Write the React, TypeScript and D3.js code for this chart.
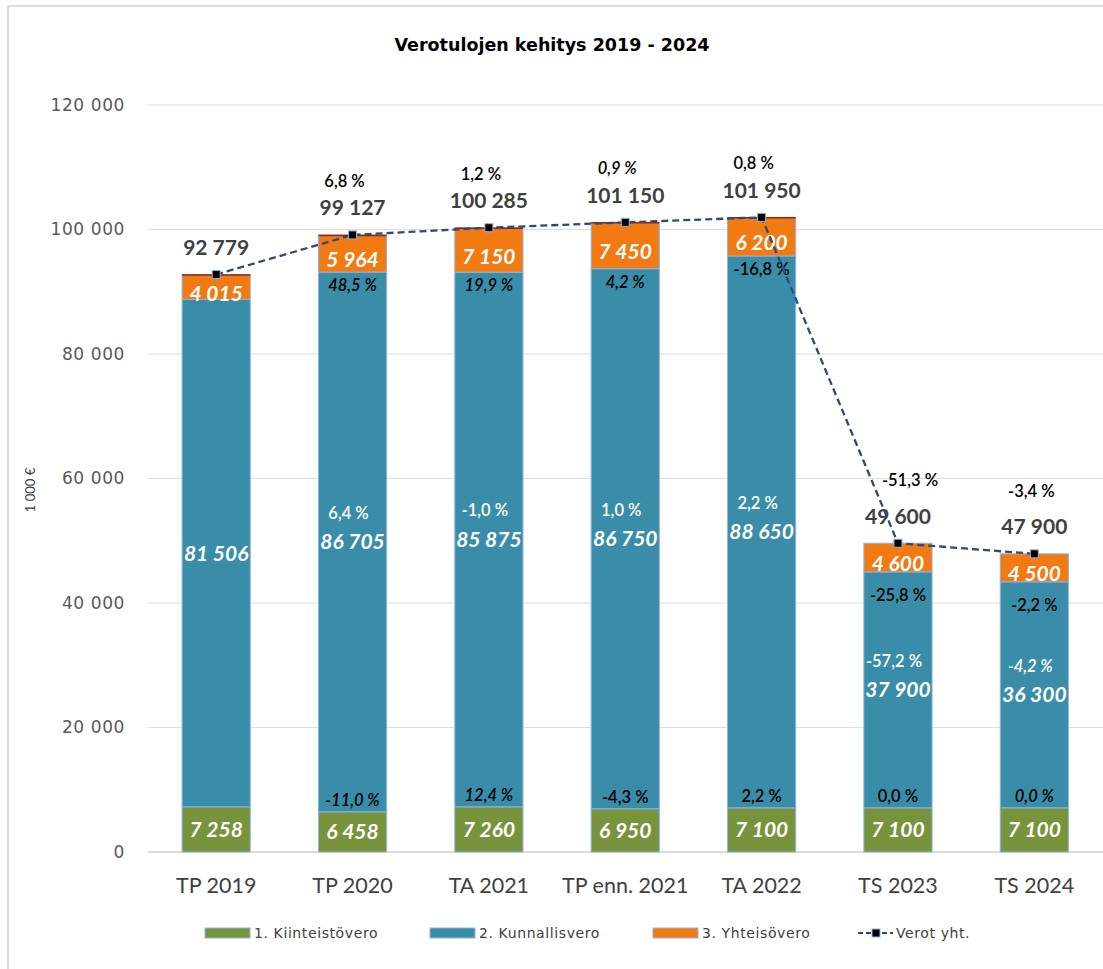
import React from "react";
import * as d3 from "d3";

const categories = ["TP 2019", "TP 2020", "TA 2021", "TP enn. 2021", "TA 2022", "TS 2023", "TS 2024"];
const kiinteistovero = [7258, 6458, 7260, 6950, 7100, 7100, 7100];
const kunnallisvero = [81506, 86705, 85875, 86750, 88650, 37900, 36300];
const yhteisovero = [4015, 5964, 7150, 7450, 6200, 4600, 4500];
const verotYht = [92779, 99127, 100285, 101150, 101950, 49600, 47900];

const totalGrowth = ["", "6,8 %", "1,2 %", "0,9 %", "0,8 %", "-51,3 %", "-3,4 %"];
const totalGrowthItalic = [false, false, false, true, false, false, false];
const yhteisGrowth = ["", "48,5 %", "19,9 %", "4,2 %", "-16,8 %", "-25,8 %", "-2,2 %"];
const yhteisGrowthItalic = [false, true, true, true, false, false, false];
const kunnGrowth = ["", "6,4 %", "-1,0 %", "1,0 %", "2,2 %", "-57,2 %", "-4,2 %"];
const kunnGrowthItalic = [false, false, false, false, false, false, true];
const kiintGrowth = ["", "-11,0 %", "12,4 %", "-4,3 %", "2,2 %", "0,0 %", "0,0 %"];
const kiintGrowthItalic = [false, true, true, false, false, false, true];
const hasTopEdge = [true, true, true, true, true, false, false];

const yTicks = [0, 20000, 40000, 60000, 80000, 100000, 120000];
const legendLabels = ["1. Kiinteistövero", "2. Kunnallisvero", "3. Yhteisövero", "Verot yht."];

const GREEN = "#77933C";
const TEAL = "#3A8DA8";
const ORANGE = "#F27A12";
const OUTLINE = "#8EB4E3";
const LINE = "#2E4A75";
const FONT = "Lato, 'Open Sans', sans-serif";

const fmt = (v: number) => d3.format(",")(v).replace(/,/g, " ");

export default function App() {
  const W = 1103, H = 969;
  const x = d3.scaleBand<string>().domain(categories).range([148, 1102.5]).paddingInner(0.5).paddingOuter(0.25);
  const y = d3.scaleLinear().domain([0, 120000]).range([852, 105]);
  const bw = x.bandwidth();
  const cx = (c: string) => (x(c) as number) + bw / 2;

  const lineGen = d3.line<number>().x((_, i) => cx(categories[i])).y((d) => y(d));

  const legendItems = [
    { x: 205, color: GREEN, label: legendLabels[0], kind: "box" },
    { x: 430, color: TEAL, label: legendLabels[1], kind: "box" },
    { x: 653, color: ORANGE, label: legendLabels[2], kind: "box" },
    { x: 858, color: LINE, label: legendLabels[3], kind: "line" },
  ];

  return (
    <svg width={W} height={H} style={{ position: "absolute", left: 0, top: 0, background: "#fff" }} fontFamily={FONT}>
      <rect x={8} y={6} width={W + 10} height={H + 10} fill="#fff" stroke="#DCDCDC" strokeWidth={2} />
      <text x={552} y={45} dy="0.36em" textAnchor="middle" fontSize={17.5} fontWeight={700} fill="#000" fontFamily="'DejaVu Sans', sans-serif">
        Verotulojen kehitys 2019 - 2024
      </text>

      {yTicks.map((t) => (
        <g key={t}>
          <line x1={148} x2={1103} y1={y(t)} y2={y(t)} stroke={t === 0 ? "#D0D0D0" : "#DEDEDE"} strokeWidth={t === 0 ? 1.5 : 1} />
          <text x={125} y={y(t)} dy="0.35em" textAnchor="end" fontSize={17} fill="#595959" fontFamily="'DejaVu Sans', sans-serif" letterSpacing={0.6}>
            {fmt(t)}
          </text>
        </g>
      ))}
      <text transform={`translate(35,${490}) rotate(-90)`} textAnchor="middle" fontSize={13} fill="#404040">
        1 000 €
      </text>

      {categories.map((c, i) => {
        const x0 = x(c) as number;
        const g0 = y(0), g1 = y(kiinteistovero[i]);
        const k1 = y(kiinteistovero[i] + kunnallisvero[i]);
        const o1 = y(kiinteistovero[i] + kunnallisvero[i] + yhteisovero[i]);
        const mid = cx(c);
        const pctX = i < 5 ? mid - 8 : i === 5 ? mid + 12 : mid - 3;
        return (
          <g key={c}>
            <rect x={x0} y={g1} width={bw} height={g0 - g1} fill={GREEN} stroke={OUTLINE} strokeWidth={1} />
            <rect x={x0} y={k1} width={bw} height={g1 - k1} fill={TEAL} stroke={OUTLINE} strokeWidth={1} />
            <rect x={x0} y={o1} width={bw} height={k1 - o1} fill={ORANGE} stroke={OUTLINE} strokeWidth={1} />
            {hasTopEdge[i] && <line x1={x0} x2={x0 + bw} y1={o1 + 0.5} y2={o1 + 0.5} stroke="#8B2A1A" strokeWidth={1.5} />}

            <text x={mid} y={(g0 + g1) / 2} dy="0.36em" textAnchor="middle" fontSize={21} fontWeight={700} fontStyle="italic" fill="#fff">
              {fmt(kiinteistovero[i])}
            </text>
            <text x={mid} y={(g1 + k1) / 2} dy="0.36em" textAnchor="middle" fontSize={21} fontWeight={700} fontStyle="italic" fill="#fff">
              {fmt(kunnallisvero[i])}
            </text>
            <text x={mid} y={(k1 + o1) / 2 + 6} dy="0.36em" textAnchor="middle" fontSize={21} fontWeight={700} fontStyle="italic" fill="#fff">
              {fmt(yhteisovero[i])}
            </text>

            <text x={mid} y={o1 - 27} dy="0.36em" textAnchor="middle" fontSize={21} fontWeight={700} fill="#404040">
              {fmt(verotYht[i])}
            </text>
            {totalGrowth[i] && (
              <text x={pctX} y={o1 - 27 - (i >= 5 ? 36 : 27)} dy="0.36em" textAnchor="middle" fontSize={16.5} fontWeight={600} fontStyle={totalGrowthItalic[i] ? "italic" : "normal"} fill="#000">
                {totalGrowth[i]}
              </text>
            )}
            {yhteisGrowth[i] && (
              <text x={mid} y={k1 + (i >= 5 ? 23 : 13)} dy="0.36em" textAnchor="middle" fontSize={16.5} fontWeight={600} fontStyle={yhteisGrowthItalic[i] ? "italic" : "normal"} fill="#000">
                {yhteisGrowth[i]}
              </text>
            )}
            {kunnGrowth[i] && (
              <text x={mid - 4} y={(g1 + k1) / 2 - 29} dy="0.36em" textAnchor="middle" fontSize={16.5} fontWeight={600} fontStyle={kunnGrowthItalic[i] ? "italic" : "normal"} fill="#fff">
                {kunnGrowth[i]}
              </text>
            )}
            {kiintGrowth[i] && (
              <text x={mid} y={g1 - 12} dy="0.36em" textAnchor="middle" fontSize={16.5} fontWeight={600} fontStyle={kiintGrowthItalic[i] ? "italic" : "normal"} fill="#000">
                {kiintGrowth[i]}
              </text>
            )}

            <text x={mid} y={885} dy="0.36em" textAnchor="middle" fontSize={21.5} fill="#404040">
              {c}
            </text>
          </g>
        );
      })}

      <path d={lineGen(verotYht) || ""} fill="none" stroke={LINE} strokeWidth={2.3} strokeDasharray="7,4" />
      {verotYht.map((v, i) => (
        <rect key={i} x={cx(categories[i]) - 4} y={y(v) - 4} width={8} height={8} fill="#000" stroke={OUTLINE} strokeWidth={1} />
      ))}

      {legendItems.map((it) => (
        <g key={it.label}>
          {it.kind === "box" ? (
            <rect x={it.x} y={928} width={45} height={10} fill={it.color} stroke={OUTLINE} strokeWidth={1} />
          ) : (
            <g>
              <line x1={it.x} x2={it.x + 35} y1={933} y2={933} stroke={it.color} strokeWidth={2} strokeDasharray="5,3" />
              <rect x={it.x + 14} y={929} width={8} height={8} fill="#000" stroke={OUTLINE} strokeWidth={1} />
            </g>
          )}
          <text x={it.x + (it.kind === "box" ? 49 : 38)} y={933} dy="0.36em" fontSize={14} letterSpacing={0.6} fill="#404040" fontFamily="'DejaVu Sans', sans-serif">
            {it.label}
          </text>
        </g>
      ))}
    </svg>
  );
}
